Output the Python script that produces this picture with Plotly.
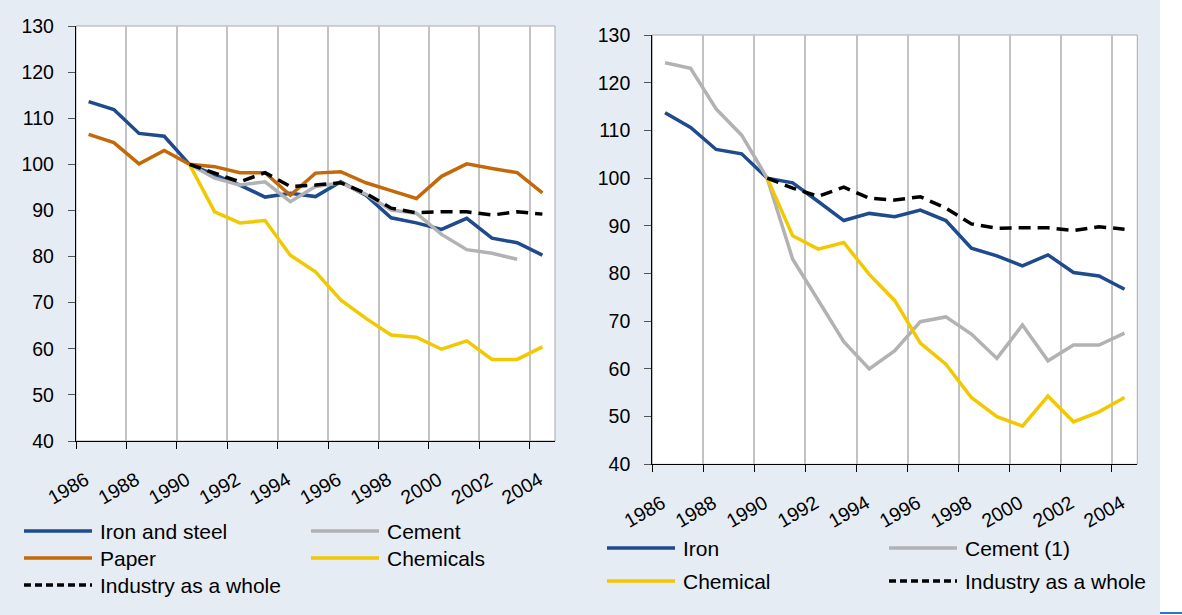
import plotly.graph_objects as go

W, H = 1182, 615

years = list(range(1986, 2005))
year_labels = [str(y) for y in range(1986, 2005, 2)]

# left panel: energy intensity by branch (1990 = 100)
iron_steel = [113.6, 111.9, 106.7, 106.1, 100.0, 97.8, 95.5, 92.9, 93.7, 93.0,
              96.2, 93.3, 88.4, 87.3, 85.9, 88.3, 84.0, 83.0, 80.3]
cement = [None, None, None, None, 100.0, 97.0, 95.5, 96.2, 91.9, 95.2,
          96.0, 93.5, 90.1, 89.4, 84.8, 81.5, 80.7, 79.4, None]
paper = [106.5, 104.7, 100.1, 103.0, 100.0, 99.5, 98.2, 98.2, 93.3, 98.1,
         98.4, 96.0, 94.3, 92.6, 97.4, 100.1, 99.1, 98.2, 93.8]
chemicals = [None, None, None, None, 100.0, 89.7, 87.3, 87.8, 80.3, 76.7,
             70.6, 66.6, 63.0, 62.5, 59.9, 61.7, 57.7, 57.7, 60.4]
industry_left = [None, None, None, None, 100.0, 98.1, 96.2, 98.2, 95.2, 95.5,
                 96.0, 93.7, 90.5, 89.5, 89.7, 89.7, 89.0, 89.7, 89.2]

# right panel
iron = [113.7, 110.6, 106.0, 105.1, 100.0, 99.0, 95.1, 91.1, 92.6, 91.9,
        93.3, 91.1, 85.3, 83.7, 81.6, 83.9, 80.2, 79.5, 76.7]
cement_1 = [124.2, 123.0, 114.5, 109.0, 100.0, 83.0, 74.4, 65.7, 60.0, 63.8,
            69.9, 70.9, 67.3, 62.2, 69.2, 61.7, 65.0, 65.0, 67.5]
chemical = [None, None, None, None, 100.0, 87.9, 85.1, 86.5, 79.8, 74.3,
            65.4, 61.0, 54.0, 50.0, 48.0, 54.3, 48.9, 51.0, 54.0]
industry_right = [None, None, None, None, 100.0, 97.9, 96.2, 98.1, 95.8, 95.4,
                  96.1, 93.7, 90.4, 89.5, 89.6, 89.6, 89.0, 89.8, 89.3]

BLUE = "#1F4A8C"
ORANGE = "#C4690A"
GREY = "#B2B2B4"
YELLOW = "#F2C800"
BLACK = "#000000"
BG = "#E6ECF3"
FONT = "Liberation Sans, Arial, sans-serif"
DASH = "12px,7px"

left_series = [
    ("Iron and steel", iron_steel, BLUE, "solid"),
    ("Cement", cement, GREY, "solid"),
    ("Paper", paper, ORANGE, "solid"),
    ("Chemicals", chemicals, YELLOW, "solid"),
    ("Industry as a whole", industry_left, BLACK, DASH),
]
right_series = [
    ("Iron", iron, BLUE, "solid"),
    ("Cement (1)", cement_1, GREY, "solid"),
    ("Chemical", chemical, YELLOW, "solid"),
    ("Industry as a whole", industry_right, BLACK, DASH),
]

fig = go.Figure()
for name, vals, col, dash in left_series:
    fig.add_trace(go.Scatter(x=years, y=vals, name=name, mode="lines",
                             line=dict(color=col, width=3.5, dash=dash),
                             xaxis="x", yaxis="y", showlegend=False))
for name, vals, col, dash in right_series:
    fig.add_trace(go.Scatter(x=years, y=vals, name=name, mode="lines",
                             line=dict(color=col, width=3.5, dash=dash),
                             xaxis="x2", yaxis="y2", showlegend=False))


def px_x(v):
    return v / W


def px_y(v):
    return 1 - v / H


grid_vals = [1985.5 + 2 * k for k in range(10)]


def xaxis(domain, anchor):
    return dict(
        domain=domain, anchor=anchor, range=[1985.5, 2004.5], automargin=False,
        tickmode="array", tickvals=list(range(1986, 2005, 2)), ticktext=year_labels,
        tickangle=-30, ticks="", showgrid=False, zeroline=False,
        showline=True, linecolor=BLACK, linewidth=1.3,
        tickfont=dict(family=FONT, size=19.5, color=BLACK),
        ticklabelstandoff=19, ticklabelshift=-3,
        minor=dict(tickmode="array", tickvals=grid_vals, ticks="outside", ticklen=7,
                   tickcolor=BLACK, tickwidth=1, showgrid=True,
                   gridcolor="#C3C3C3", gridwidth=1.6),
    )


def yaxis(domain, anchor):
    return dict(
        domain=domain, anchor=anchor, range=[40, 130], dtick=10, tick0=40,
        automargin=False,
        ticks="outside", ticklen=7, tickcolor="#555555", showgrid=False, zeroline=False,
        showline=True, linecolor=BLACK, linewidth=1.3,
        tickfont=dict(family=FONT, size=19.5, color=BLACK), ticklabelstandoff=10,
    )


shapes = [
    # white strip right of the panel background
    dict(type="rect", xref="paper", yref="paper", x0=px_x(1160), x1=1, y0=0, y1=1,
         fillcolor="white", line=dict(width=0), layer="below"),
    dict(type="line", xref="paper", yref="paper", x0=px_x(1160), x1=1,
         y0=px_y(613), y1=px_y(613), line=dict(color="#2E75C8", width=2)),
]
for xr, yr in [("x", "y"), ("x2", "y2")]:
    shapes.append(dict(type="rect", xref=f"{xr} domain", yref=f"{yr} domain",
                       x0=0, x1=1, y0=0, y1=1, line=dict(color="#A8A8A8", width=1),
                       layer="below"))

annotations = []


def legend_item(x_line, y, label, col, dash):
    shapes.append(dict(type="line", xref="paper", yref="paper",
                       x0=px_x(x_line), x1=px_x(x_line + 68), y0=px_y(y), y1=px_y(y),
                       line=dict(color=col, width=3.5,
                                 dash="7px,4px" if dash != "solid" else "solid")))
    annotations.append(dict(xref="paper", yref="paper", x=px_x(x_line + 74), y=px_y(y),
                            text=label, showarrow=False, xanchor="left", yanchor="middle",
                            font=dict(family=FONT, size=21, color=BLACK)))


left_pos = [(24, 531), (311, 531), (24, 558), (311, 558), (24, 585)]
for (xl, yl), (name, _, col, dash) in zip(left_pos, left_series):
    legend_item(xl, yl, name, col, dash)
right_pos = [(607, 548), (889, 548), (607, 581), (889, 581)]
for (xl, yl), (name, _, col, dash) in zip(right_pos, right_series):
    legend_item(xl, yl, name, col, dash)

fig.update_layout(
    width=W, height=H,
    margin=dict(l=0, r=0, t=0, b=0),
    paper_bgcolor=BG, plot_bgcolor="white",
    font=dict(family=FONT, color=BLACK),
    xaxis=xaxis([px_x(76), px_x(555)], "y"),
    yaxis=yaxis([px_y(441), px_y(26)], "x"),
    xaxis2=xaxis([px_x(652.3), px_x(1137.3)], "y2"),
    yaxis2=yaxis([px_y(464.3), px_y(35)], "x2"),
    shapes=shapes,
    annotations=annotations,
    showlegend=False,
)

fig.write_html("out.html", config={"displayModeBar": False},
               post_script="document.body.style.margin='0';")
